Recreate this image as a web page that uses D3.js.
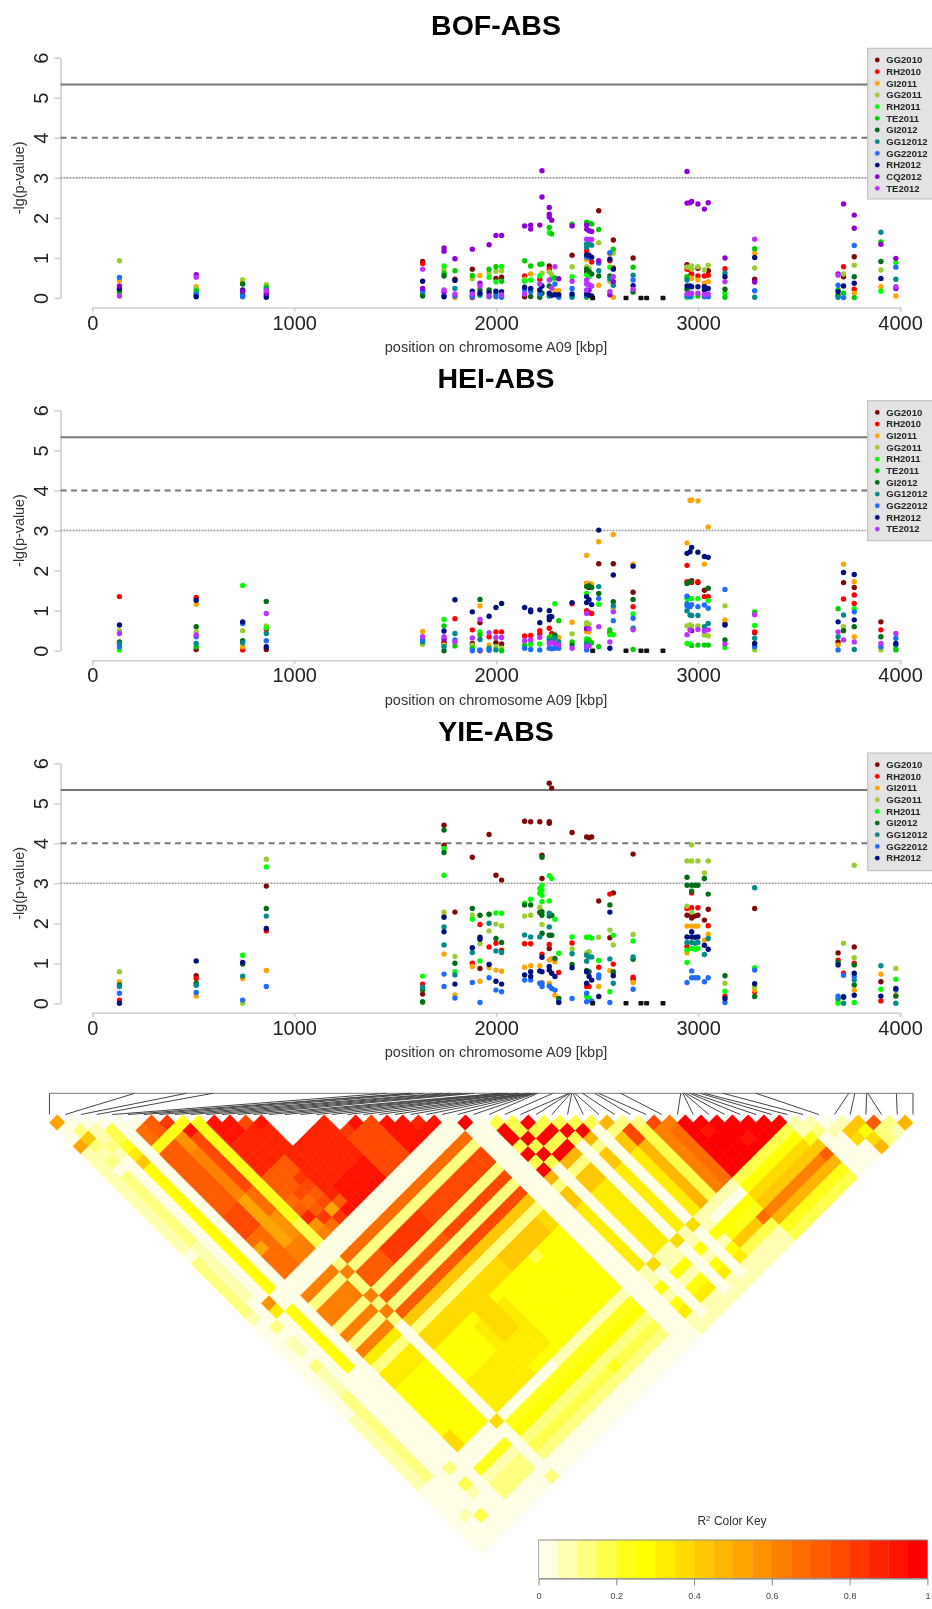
<!DOCTYPE html>
<html lang="en">
<head>
<meta charset="UTF-8">
<title>A09 association and LD</title>
<style>
body { margin: 0; background: #fff; }
svg { display: block; filter: blur(0.4px); font-family: "Liberation Sans", Arial, sans-serif; }
.axis path, .axis line { stroke: #cfcfcf; stroke-width: 1.6px; }
.axis text { font-size: 20px; fill: #222; }
.xlab { font-size: 14.5px; fill: #333; text-anchor: middle; }
.ylab { font-size: 14.4px; fill: #333; text-anchor: middle; }
.title { font-size: 28.5px; font-weight: bold; text-anchor: middle; fill: #000; }
.legend text { font-size: 9.5px; font-weight: bold; fill: #222; }
</style>
</head>
<body>
<script src="https://cdnjs.cloudflare.com/ajax/libs/d3/7.8.5/d3.min.js"></script>
<script>
var seriesNames = ["GG2010","RH2010","GI2011","GG2011","RH2011","TE2011","GI2012","GG12012","GG22012","RH2012","CQ2012","TE2012"];
var seriesColors = ["#7f0a0a","#ff0000","#ffa500","#9acd32","#00ff00","#00cd00","#006e14","#008b8b","#1e6cff","#00107f","#8f00d6","#bb33ff"];
var bofLegend = [0,1,2,3,4,5,6,7,8,9,10,11];
var heiLegend = [0,1,2,3,4,5,6,7,8,9,11];
var yieLegend = [0,1,2,3,4,6,7,8,9];
var thresholds = [5.33, 4, 3];
var xTicks = [0,1000,2000,3000,4000];
var yTicks = [0,1,2,3,4,5,6];
var blackPositions = [2478,2643,2717,2745,2826];

// each row: kbp, then series index / -lg(p) pairs
var bofPoints = [
[135, 3,.93, 8,.51, 2,.43, 10,.3, 9,.24, 6,.2, 5,.15, 4,.11, 11,.05],
[515, 10,.58, 11,.52, 2,.28, 3,.24, 5,.18, 4,.14, 8,.1, 7,.07, 9,.03],
[745, 3,.46, 2,.4, 6,.35, 9,.2, 10,.17, 4,.15, 5,.1, 7,.07, 8,.03],
[862, 3,.33, 5,.27, 7,.22, 11,.18, 10,.12, 4,.09, 8,.06, 9,.02],
[1636, 0,.91, 1,.86, 11,.72, 9,.42, 10,.24, 7,.2, 8,.17, 5,.09, 6,.05],
[1742, 10,1.25, 10,1.17, 4,.8, 3,.7, 5,.62, 6,.55, 11,.2, 10,.15, 8,.06, 9,.03],
[1796, 10,.98, 5,.68, 0,.47, 9,.44, 7,.24, 11,.1, 8,.05, 2,.01],
[1882, 10,1.22, 0,.72, 5,.56, 3,.48, 9,.17, 11,.1, 6,.06, 8,.03, 1,.01],
[1920, 2,.56, 10,.37, 11,.3, 6,.2, 9,.12, 7,.07],
[1965, 10,1.33, 5,.72, 3,.62, 4,.52, 6,.2, 9,.13, 11,.05, 8,.03],
[1999, 10,1.56, 5,.78, 3,.67, 0,.49, 4,.4, 9,.17, 7,.1, 8,.03],
[2027, 10,1.56, 4,.79, 3,.68, 0,.52, 5,.42, 9,.16, 11,.08, 8,.02],
[2141, 10,1.8, 5,.93, 1,.55, 3,.47, 4,.42, 9,.27, 8,.2, 11,.1, 0,.03],
[2171, 10,1.82, 10,1.72, 5,.8, 2,.6, 4,.45, 9,.24, 8,.16, 6,.04],
[2216, 10,1.82, 5,.84, 4,.55, 1,.47, 11,.35, 9,.2, 8,.1, 6,.02],
[2227, 10,3.18, 10,2.52, 5,.85, 3,.62, 9,.3, 6,.12],
[2263, 10,2.26, 10,2.09, 10,2.02, 5,1.76, 4,1.63, 0,.8, 1,.72, 3,.65, 11,.45, 6,.3, 9,.12, 7,.05],
[2275, 10,1.94, 5,1.6, 3,.58, 4,.48, 11,.25, 9,.07],
[2291, 11,.78, 5,.5, 8,.35, 2,.18, 9,.08],
[2310, 10,.48, 2,.18, 9,.08, 8,.02],
[2376, 5,1.84, 10,1.8, 0,1.07, 3,.78, 4,.53, 11,.42, 8,.24, 9,.1, 6,.05, 7,.02],
[2448, 5,1.89, 10,1.82, 10,1.72, 11,1.47, 7,1.35, 7,1.27, 1,1.18, 9,1.08, 8,1.03, 2,.96, 3,.78, 6,.72, 0,.65, 4,.58, 11,.45, 11,.35, 11,.2, 9,.1, 8,.05, 5,.02],
[2460, 5,1.87, 10,1.68, 11,1.46, 7,1.35, 9,1.07, 8,1.01, 3,.75, 6,.66, 4,.53, 11,.33, 10,.2, 9,.07],
[2473, 5,1.85, 10,1.66, 11,1.46, 7,1.32, 9,1.02, 1,.9, 6,.6, 11,.3, 9,.05],
[2508, 0,2.18, 5,1.71, 3,1.38, 10,.93, 8,.87, 7,.68, 6,.55, 2,.32],
[2563, 2,1.1, 8,1.13, 9,.97, 1,.93, 4,.77, 6,.55, 7,.48, 3,.42, 11,.16, 10,.08],
[2580, 0,1.45, 5,1.22, 3,1.12, 9,.72, 1,.75, 11,.53, 10,.41, 7,.32, 2,.02],
[2678, 0,1, 5,.77, 7,.57, 8,.45, 9,.31, 11,.22, 6,.15],
[2945, 10,3.16, 10,2.37, 0,.83, 3,.77, 1,.72, 5,.53, 2,.5, 7,.45, 9,.3, 6,.22, 11,.1, 8,.05, 4,.02],
[2960, 10,2.38, 3,.78, 0,.7, 2,.5, 1,.55, 9,.3, 11,.12, 8,.03],
[2968, 10,2.41, 3,.8, 3,.72, 2,.49, 1,.6, 9,.28, 11,.12, 4,.03],
[2999, 10,2.35, 3,.78, 0,.74, 2,.45, 1,.55, 9,.28, 11,.12, 5,.05],
[3031, 10,2.22, 3,.7, 1,.55, 2,.37, 9,.28, 9,.2, 11,.08, 8,.03],
[3050, 10,2.38, 3,.82, 0,.68, 1,.57, 2,.41, 9,.24, 11,.1, 8,.03],
[3133, 10,1, 1,.73, 7,.62, 9,.53, 11,.41, 6,.22, 4,.12, 5,.02],
[3280, 11,1.47, 5,1.23, 2,1.12, 9,1.01, 3,.75, 0,.47, 10,.4, 8,.18, 7,.02],
[3693, 11,.57, 10,.6, 8,.32, 5,.2, 9,.16, 6,.07, 7,.02],
[3720, 10,2.35, 1,.78, 3,.6, 0,.53, 9,.3, 5,.12, 8,.01],
[3773, 10,2.07, 10,1.74, 8,1.31, 0,1.03, 3,.82, 6,.53, 9,.37, 1,.22, 2,.12, 5,.01],
[3905, 7,1.64, 5,1.4, 10,1.34, 6,.91, 3,.7, 9,.49, 2,.28, 4,.17],
[3979, 10,.99, 4,.89, 8,.77, 7,.47, 11,.28, 2,.05, 10,.24]
];

var heiPoints = [
[135, 1,1.35, 9,.64, 3,.5, 11,.43, 6,.22, 7,.18, 8,.1, 4,.02],
[515, 1,1.33, 9,1.26, 2,1.16, 6,.6, 3,.47, 11,.39, 8,.35, 7,.18, 5,.1, 0,.03],
[745, 4,1.63, 9,.72, 8,.68, 3,.5, 6,.25, 7,.2, 2,.1, 1,.02],
[862, 6,1.23, 11,.93, 3,.62, 4,.57, 1,.53, 7,.43, 8,.25, 9,.1, 0,.03],
[1636, 2,.48, 11,.35, 8,.28, 7,.22, 3,.16],
[1742, 4,.78, 5,.62, 9,.49, 11,.35, 10,.3, 0,.22, 1,.17, 3,.14, 7,.1, 6,0],
[1796, 9,1.27, 1,.8, 7,.43, 8,.27, 11,.22, 5,.12],
[1882, 9,.97, 1,.52, 11,.32, 0,.18, 3,.14, 5,.06, 8,0],
[1920, 6,1.28, 2,1.12, 11,.78, 0,.7, 4,.47, 5,.4, 7,.28, 8,.02, 1,0],
[1965, 9,.86, 1,.35, 11,.45, 2,.14, 7,.06, 8,.01],
[1999, 9,1.08, 1,.47, 11,.33, 0,.2, 3,.1, 7,.02],
[2027, 9,1.18, 1,.47, 11,.33, 0,.17, 3,.06, 5,0],
[2141, 9,1.08, 1,.37, 11,.25, 5,.14, 8,.06],
[2171, 9,1.02, 9,.97, 1,.38, 11,.27, 4,.18, 3,.14, 8,.03],
[2216, 9,1.02, 1,.5, 1,.42, 9,.7, 11,.33, 4,.17, 8,.02],
[2263, 9,1, 9,.85, 9,.77, 1,.56, 5,.33, 7,.27, 11,.18, 8,.06],
[2275, 9,.85, 1,.43, 4,.35, 11,.2, 7,.25, 8,.05],
[2291, 4,1.17, 6,.39, 7,.31, 11,.18, 8,.06],
[2310, 5,.75, 2,.33, 7,.22, 11,.14, 8,.06],
[2376, 9,1.2, 1,1.17, 2,.71, 3,.42, 5,.22, 6,.14, 11,.06],
[2448, 2,2.38, 2,1.68, 0,1.68, 6,1.6, 4,1.43, 9,1.35, 9,1.2, 1,1, 1,.95, 11,.93, 3,.7, 3,.62, 10,.55, 2,.47, 4,.3, 5,.22, 7,.16, 11,.1, 8,.02],
[2460, 2,1.68, 6,1.62, 0,1.58, 9,1.27, 1,.95, 3,.66, 11,.55, 2,.47, 5,.27, 11,.12],
[2473, 2,1.66, 6,1.58, 1,.93, 9,1.15, 5,.2],
[2508, 9,3.01, 2,2.72, 0,2.17, 7,1.6, 6,1.43, 8,1.3, 4,1.16, 11,.6, 5,.1],
[2563, 5,.52, 1,.45, 4,.4, 11,.22, 9,.06],
[2580, 2,2.9, 0,2.17, 9,1.89, 6,1.22, 7,1.12, 3,1.06, 11,.97, 8,.75, 4,.4],
[2678, 2,2.16, 9,2.11, 0,1.46, 6,1.28, 1,1.1, 4,.92, 8,.81, 7,.56, 11,.52, 5,.03],
[2945, 2,2.69, 9,2.43, 1,2.13, 1,1.72, 6,1.68, 8,1.36, 4,1.3, 7,1.17, 8,1.12, 7,1, 3,.62, 11,.4, 4,.18],
[2960, 2,3.75, 9,2.47, 6,1.72, 4,1.3, 8,1.1, 7,.89, 3,.64, 11,.52, 4,.17],
[2968, 2,3.76, 9,2.58, 0,1.75, 1,1.7, 4,1.3, 8,1.15, 7,.88, 3,.62, 10,.5, 5,.13],
[2999, 2,3.74, 9,2.46, 1,1.72, 0,1.7, 4,1.3, 8,1.1, 7,.88, 3,.62, 11,.53, 5,.14],
[3031, 2,2.16, 9,2.35, 0,1.51, 1,1.35, 8,1.14, 7,.6, 11,.49, 3,.39, 5,.14],
[3050, 2,3.09, 9,2.33, 6,1.56, 1,1.35, 4,1.25, 8,1.06, 7,.68, 11,.52, 3,.37, 5,.14],
[3133, 8,1.53, 3,1.12, 2,.77, 0,.67, 9,.64, 6,.27, 11,.17, 4,.08],
[3280, 5,.97, 11,.9, 4,.63, 1,.47, 0,.45, 7,.31, 9,.18, 8,.1, 3,.02],
[3693, 5,1.05, 9,.72, 11,.47, 7,.35, 0,.22, 2,.14, 8,.02],
[3720, 2,2.16, 9,1.95, 0,1.7, 1,1.29, 7,.89, 3,.6, 6,.5, 11,.27],
[3773, 9,1.9, 2,1.72, 0,1.58, 1,1.39, 1,1.18, 4,1.05, 8,.97, 9,.77, 6,.6, 2,.35, 11,.22, 7,.03],
[3905, 0,.72, 1,.52, 6,.35, 11,.18, 8,.1, 3,.02],
[3979, 11,.43, 8,.31, 9,.18, 7,.14, 3,.06, 5,.02]
];

var yiePoints = [
[135, 3,.79, 2,.54, 6,.46, 7,.42, 8,.25, 1,.08, 9,0],
[515, 9,1.06, 0,.69, 1,.62, 6,.5, 7,.45, 8,.27, 2,.18],
[745, 4,1.2, 9,1.02, 6,.98, 7,.68, 2,.62, 8,.08, 3,0],
[862, 3,3.6, 4,3.41, 0,2.93, 6,2.37, 7,2.18, 9,1.87, 1,1.81, 2,.82, 8,.42],
[1636, 4,.68, 1,.48, 7,.4, 6,.34, 0,.23, 3,.02, 6,.04],
[1742, 0,4.45, 6,4.33, 0,3.95, 4,3.87, 6,3.77, 4,3.2, 3,2.28, 2,2.2, 9,2.15, 7,1.91, 9,1.79, 7,1.46, 2,1.23, 8,.73, 8,.42],
[1796, 0,2.28, 3,1.17, 6,1, 4,.79, 7,.71, 9,.48, 2,.21, 8,.13],
[1882, 0,3.65, 6,2.37, 3,2.21, 4,2.1, 9,1.39, 7,1.27, 1,1, 2,.92, 8,.52],
[1920, 6,2.2, 1,1.97, 9,1.65, 9,1.6, 3,1.49, 4,1.06, 0,.87, 2,.55, 8,.02],
[1965, 0,4.22, 4,2.22, 6,2.23, 7,2, 3,1.81, 1,1.41, 9,.97, 2,.89, 8,.64],
[1999, 0,3.2, 4,2.26, 3,1.98, 6,1.62, 1,1.5, 7,1.31, 2,.83, 9,.55, 8,.33],
[2027, 0,3.08, 4,2.25, 3,1.94, 6,1.52, 1,1.33, 7,1.27, 2,.8, 9,.48, 8,.29],
[2141, 0,4.55, 4,2.5, 6,2.46, 3,2.18, 7,1.71, 1,1.49, 2,.9, 9,.71, 8,.58],
[2171, 0,4.54, 4,2.6, 6,2.46, 3,2.2, 7,1.66, 1,1.49, 2,.94, 9,.79, 9,.67, 8,.58],
[2216, 0,4.54, 4,2.87, 4,2.75, 6,2.27, 3,2.4, 7,1.66, 2,.94, 9,.81, 8,.5],
[2227, 0,3.7, 6,3.65, 0,3.12, 4,2.95, 4,2.83, 4,2.7, 4,2.54, 6,2.29, 6,2.2, 3,1.97, 3,1.73, 6,1.75, 1,1.23, 9,1.15, 9,.79, 2,.52, 8,.5, 8,.42],
[2263, 0,5.5, 0,4.54, 0,4.5, 4,3.19, 4,2.56, 7,2.25, 6,2.18, 7,1.91, 6,1.7, 1,1.47, 0,1.37, 2,1.08, 9,.92, 9,.83, 2,.5, 8,.43],
[2275, 0,5.38, 4,3.12, 6,2.2, 6,1.7, 2,1.12, 9,.75, 8,.37],
[2291, 4,2.1, 6,1.12, 2,1.04, 9,.67, 8,.33, 2,.2],
[2310, 4,1.25, 1,.77, 2,.12, 6,.12, 8,.04, 9,.02],
[2376, 0,4.27, 4,1.66, 1,1.51, 3,1.36, 7,1.24, 6,.97, 9,.89, 8,.12],
[2448, 0,4.16, 4,1.65, 3,1.25, 7,1.2, 7,1.05, 6,.82, 9,.79, 9,.5, 1,.42, 8,.25, 4,.17, 8,.04],
[2460, 0,4.14, 4,1.66, 3,1.29, 7,1.16, 6,.79, 9,.67, 1,.42, 4,.13],
[2473, 0,4.16, 4,1.63, 7,1.16, 9,.58, 8,.06],
[2508, 0,2.56, 3,1.65, 4,1.07, 1,.9, 8,.71, 8,.64, 2,.42, 9,.17],
[2563, 1,2.73, 6,2.46, 9,2.28, 3,1.83, 0,1.64, 7,1.11, 2,.82, 4,.29, 8,.02],
[2580, 0,2.76, 4,1.7, 3,1.46, 1,.98, 6,.79, 2,.75, 9,.69, 7,.5],
[2678, 0,3.73, 3,1.72, 4,1.56, 7,1.16, 6,1.1, 1,.65, 0,.6, 2,.52, 8,.35],
[2945, 3,3.56, 6,3.15, 6,2.95, 3,2.43, 1,2.37, 0,2.2, 2,1.93, 9,1.66, 7,1.52, 1,1.42, 4,1.33, 2,1.26, 4,1.02, 8,.52],
[2968, 3,3.96, 3,3.56, 6,2.95, 6,2.8, 1,2.76, 1,2.39, 3,2.28, 0,2.2, 0,2.13, 2,1.93, 9,1.79, 9,1.66, 7,1.52, 4,1.37, 8,.81, 8,.64],
[2985, 6,2.95, 0,2.18, 2,1.93, 9,1.65, 7,1.5, 4,1.35, 8,.64],
[2999, 3,3.56, 6,2.95, 1,2.39, 0,2.2, 2,1.93, 9,1.66, 7,1.52, 4,1.37, 8,.64],
[3031, 3,3.26, 6,3.12, 0,2.08, 2,1.58, 9,1.45, 7,1.22, 8,.54],
[3050, 3,3.56, 6,2.73, 0,2.35, 1,1.94, 2,1.73, 7,1.62, 9,1.35, 8,.64],
[3133, 6,.69, 3,.5, 4,.3, 1,.18, 9,.12, 8,.02],
[3280, 7,2.89, 0,2.37, 4,.89, 8,.83, 9,.49, 3,.4, 2,.33, 1,.29, 6,.17],
[3693, 0,1.26, 1,1.08, 6,1.02, 9,.96, 8,.18, 7,.12, 3,.07, 4,0],
[3720, 3,1.5, 1,.75, 8,.7, 6,.17, 9,.15, 7,0],
[3773, 3,3.45, 0,1.41, 3,1.14, 1,1, 6,.96, 9,.75, 8,.67, 7,.58, 6,.46, 2,.33, 9,.2, 4,.02],
[3905, 7,.94, 2,.73, 0,.54, 4,.35, 9,.18, 1,.06],
[3979, 3,.87, 4,.6, 9,.37, 8,.33, 2,.21, 6,.18, 7,0]
];

// LD heatmap: SNP positions on the map bar and blocks of r2 bin
var snpKbp = [135,515,745,862,1636,1742,1750,1796,1882,1920,1965,1999,2027,2141,2150,2171,2178,2216,2220,2227,2263,2266,2270,2275,2280,2291,2295,2300,2310,2376,2448,2450,2455,2460,2466,2473,2508,2563,2580,2678,2945,2955,2960,2968,2985,2999,3031,3050,3133,3280,3693,3720,3773,3778,3905,3979];
var keyColors = ["#FFFFE6","#FFFFB2","#FFFF80","#FFFF4C","#FFFF19","#FFFF00","#FFED00","#FFDB00","#FFC800","#FFB600","#FFA400","#FF9200","#FF8000","#FF6D00","#FF5B00","#FF4900","#FF3700","#FF2400","#FF1200","#FF0000"];
var keyTicks = [0,0.2,0.4,0.6,0.8,1];
function r(a,b) { return d3.range(a,b+1); }
var s1 = [28,30,31,33,35], s2 = [29,32,34], z = r(40,47);
var low = r(5,8), high = r(10,25);
var ldBlocks = [
[[0,1],[4],10],[[0],[1],10],[[1],[4],8],[[1],[3,5,7],2],[[1],[6],1],[[1],r(9,17),2],[[1],r(18,24),1],[[1],[28,37,38,39,40,41,42,43,44,45,46,47],2],[[1],[30,31,34,35,36,52],1],[[1],[33],2],
[[0],r(5,17),1],[[0],r(19,25),2],[[0],[26],1],[[0],r(39,47),1],
[[2],[4,5,7],1],[[2],[6],2],[[2],[26],11],[[2],[27],6],[[2],[53],3],
[[3],[5,6],3],[[3],[7],4],[[3],[8],6],[[3],[9],8],[[3],r(10,25),5],[[3],r(28,35),5],[[3],[48],2],[[3],[50],3],[[3],[51],1],
[[5,6],[7,8],14],[[5],[7,8],13],[[5,6],r(10,17),14],[[5,6],r(18,20),15],[[5,6],r(21,25),13],[[5],[22],10],
[[7],[8],16],[[7],[10,11],11],[[7],r(12,17),12],[[7],r(18,23),10],[[7],[24,25],12],
[[8],[10],18],[[8],r(11,17),15],[[8],r(18,20),13],[[8],r(21,23),11],[[8],[24,25],12],
[low,[9],4],[[9],r(10,22),4],[[9],r(23,25),3],
[[10,11,12],r(11,13),18],[[12],[13],15],[[10,11,12],r(14,17),17],[[10,11,12],r(18,20),14],[[12],[20],16],
[[10],[21],13],[[10],[22],14],[[10],[23],17],[[10],[24],11],[[10],[25],12],
[[11],[21],15],[[11],[22],13],[[11],[23],14],[[11],[24],16],[[11],[25],13],
[[12],[21],15],[[12],[22],14],[[12],[23],15],[[12],[24],10],[[12],[25],16],
[[13],[14],18],[[13],r(15,25),17],[[13],[24],14],[[13],[25],18],
[r(14,17),r(18,22),17],[r(14,17),r(23,25),18],
[[18,19,20],[20],18],[[18],[20],16],[[18,19,20],r(21,25),15],
[r(21,24),r(22,25),18],[[23],[24],17],[[26],[27],19],
[low,s1,12],[r(10,17),s1,14],[r(13,17),[30,31],16],[r(18,25),s1,15],[high,[28],13],
[low,s2,2],[high,s2,2],[[9],s1,2],[[9],s2,12],
[low,[36],6],[low,[37],2],[low,[38,39],6],[low,z,5],[[5],[46,47],7],
[high,[36],8],[high,[37],2],[high,[38,39],7],[r(20,24),[38,39],8],[high,z,5],[r(14,17),r(41,46),6],[[15,16],r(40,43),7],[r(10,14),r(44,47),6],[[22],[40],3],
[low,[50],4],[low,[51],1],[low,[52,53],2],
[high,[48],1],[high,[49],4],[high,[50],5],[high,[51],2],[high,[52],3],[high,[53],2],[[20],[52],4],[r(10,16),[48],0],
[[9],[48],7],[[9],[55],2],
[s1,s1,19],[s2,s2,19],[s1,s2,3],
[s1,[36],9],[s1,[37],2],[s1,[38,39],8],[s1,z,6],
[s2,[48],7],[s2,[55],1],
[s1,[48,49,51,54,55],1],[s1,[50,52],5],[s1,[53],6],
[[36],[37],2],[[36],[38,39],15],[[36],z,9],[[37],[38],2],[[37],[39],3],[[37],z,3],[[38],[39],15],[[38],z,12],[[39],z,13],[[39],[40],12],
[z,z,19],[[41],[43],18],[[43],[46],18],
[r(36,39),[48,54,55],1],[r(36,39),[50],5],[r(36,39),[51],4],[r(36,39),[52],8],[r(36,39),[53],3],[[39],[52],13],[[36],[51],5],
[z,[48],3],[z,[49],5],[z,[50],7],[z,[51],8],[z,[52],12],[z,[53],9],[z,[54],4],[z,[55],3],
[[47],[48,49],1],[[47],[50],4],[[47],[52],14],
[[48],[49],1],[[48],[50],2],[[49],[51],1],[[50],[51],1],[[50],[52],8],[[50],[53],7],[[51],[52],8],[[51],[53],5],[[51],[54],7],[[51],[55],9],[[52],[53],14],[[52],[54,55],2],[[53],[54],2],[[53],[55],1],[[54],[55],9]
];
var ldMissing = [[14,15],[14,16],[14,17],[15,16],[15,17],[16,17],[18,19]];

var width = 932, height = 1609;
var svg = d3.select("body").append("svg").attr("width", width).attr("height", height);
var x = d3.scaleLinear().domain([0,4000]).range([92.2,900.1]);
var panels = [
  { title:"BOF-ABS", points:bofPoints, legend:bofLegend, y6:57.7, y0:298, boxTop:48.3, boxBottom:199 },
  { title:"HEI-ABS", points:heiPoints, legend:heiLegend, y6:410.3, y0:650.7, boxTop:400.7, boxBottom:540.7 },
  { title:"YIE-ABS", points:yiePoints, legend:yieLegend, y6:763.3, y0:1003.3, boxTop:753, boxBottom:870.7 }
];
panels.forEach(drawPanel);

function drawPanel(p) {
  var g = svg.append("g");
  var y = d3.scaleLinear().domain([0,6]).range([p.y0,p.y6]);

  g.append("text").attr("class","title").attr("x",496).attr("y",p.y6-22.6).text(p.title);

  var xAxis = g.append("g").attr("class","axis").attr("transform","translate(0,"+(p.y0+9.5)+")")
    .call(d3.axisBottom(x).tickValues(xTicks).tickFormat(d3.format("d")).tickSize(4).tickSizeOuter(4).tickPadding(4));
  xAxis.select(".domain").attr("fill","none");

  var yAxis = g.append("g").attr("class","axis").attr("transform","translate(60.6,0)")
    .call(d3.axisLeft(y).tickValues(yTicks).tickFormat(d3.format("d")).tickSize(6).tickSizeOuter(0));
  yAxis.select(".domain").attr("fill","none");
  yAxis.selectAll("text").attr("transform","rotate(-90)").attr("x",0).attr("y",-12.8).attr("dy",0).attr("text-anchor","middle");

  g.append("text").attr("class","xlab").attr("x",496).attr("y",p.y0+54).text("position on chromosome A09 [kbp]");
  g.append("text").attr("class","ylab").attr("transform","translate(23.5,"+((p.y0+p.y6)/2)+") rotate(-90)").text("-lg(p-value)");

  var styles = [{w:2,c:"#777",d:null},{w:2,c:"#777",d:"6,4.4"},{w:1.6,c:"#999",d:"1.8,1.2"}];
  g.selectAll("line.thr").data(thresholds).enter().append("line").attr("class","thr")
    .attr("x1",60.6).attr("x2",width)
    .attr("y1",d => y(d)).attr("y2",d => y(d))
    .attr("stroke",(d,i) => styles[i].c).attr("stroke-width",(d,i) => styles[i].w)
    .attr("stroke-dasharray",(d,i) => styles[i].d);

  var dots = [];
  p.points.forEach(function (row) {
    for (var k = 1; k < row.length; k += 2) dots.push({ kbp:row[0], s:row[k], v:row[k+1] });
  });
  dots.sort((a,b) => a.s - b.s);
  g.selectAll("circle.dot").data(dots).enter().append("circle").attr("class","dot")
    .attr("cx",d => x(d.kbp)).attr("cy",d => y(d.v)).attr("r",2.7)
    .attr("fill",d => seriesColors[d.s]);

  g.selectAll("rect.mono").data(blackPositions).enter().append("rect").attr("class","mono")
    .attr("x",d => x(d)-2.5).attr("y",y(0)-2.3).attr("width",5).attr("height",4.6).attr("rx",1)
    .attr("fill","#111");

  var box = g.append("g").attr("class","legend");
  box.append("rect").attr("x",867.7).attr("y",p.boxTop).attr("width",width-867.7+3).attr("height",p.boxBottom-p.boxTop)
    .attr("fill","#e3e3e3").attr("stroke","#bbb");
  var rows = box.selectAll("g").data(p.legend).enter().append("g")
    .attr("transform",(d,i) => "translate(0,"+(p.boxTop+11.7+i*11.67)+")");
  rows.append("circle").attr("cx",877.3).attr("r",2.4).attr("fill",d => seriesColors[d]);
  rows.append("text").attr("x",886.3).attr("dy","0.35em").text(d => seriesNames[d]);
}

// LD triangle
var n = snpKbp.length;
var cells = [];
var r2 = d3.range(n).map(() => d3.range(n).map(() => 0.025));
ldBlocks.forEach(function (b) {
  b[0].forEach(function (a) {
    b[1].forEach(function (c) {
      if (a === c) return;
      r2[Math.min(a,c)][Math.max(a,c)] = (b[2] + 0.5) / 20;
    });
  });
});
ldMissing.forEach(function (m) { r2[m[0]][m[1]] = null; });
for (var i = 0; i < n; i++) for (var j = i + 1; j < n; j++) cells.push({ i:i, j:j, v:r2[i][j] });

var color = d3.scaleQuantize().domain([0,1]).range(keyColors);
var snpX = d3.scaleLinear().domain([0,n-1]).range([49.45,913]);
var barX = d3.scaleLinear().domain([d3.min(snpKbp),d3.max(snpKbp)]).range([49.45,913]);
var half = (snpX(1) - snpX(0)) / 2;
var rowY = d3.scaleLinear().domain([1,n-1]).range([1122.7,1122.7+(n-2)*half]);

// no stroke on the cells and crispEdges off: a full-colour underlay hides the seams
var ldG = svg.append("g");
ldG.selectAll("polygon").data(cells.filter(d => d.v !== null)).enter().append("polygon")
  .attr("points", function (d) {
    var cx = (snpX(d.i) + snpX(d.j)) / 2, cy = rowY(d.j - d.i);
    return [[cx,cy-half],[cx+half,cy],[cx,cy+half],[cx-half,cy]].join(" ");
  })
  .attr("fill",d => color(d.v)).attr("stroke",d => color(d.v)).attr("stroke-width",0.7).attr("stroke-linejoin","miter");

var map = svg.append("g").attr("fill","none").attr("stroke","#444").attr("stroke-width",1);
map.append("line").attr("x1",barX.range()[0]).attr("x2",barX.range()[1]).attr("y1",1093.3).attr("y2",1093.3).attr("stroke","#777");
map.selectAll("path").data(snpKbp).enter().append("path")
  .attr("d",(d,i) => "M"+barX(d)+",1093.3L"+snpX(i)+",1114.5");

// colour key
var keyX = d3.scaleLinear().domain([0,1]).range([538.5,927.4]);
var key = svg.append("g");
key.selectAll("rect").data(keyColors).enter().append("rect")
  .attr("x",(d,i) => keyX(i/20)).attr("y",1540).attr("width",keyX(0.05)-keyX(0)+0.3).attr("height",38.3)
  .attr("fill",d => d);
key.append("line").attr("x1",keyX(0)).attr("x2",keyX(1)).attr("y1",1540).attr("y2",1540).attr("stroke","#888").attr("stroke-width",1.2);
key.append("line").attr("x1",keyX(0)).attr("x2",keyX(0)).attr("y1",1540).attr("y2",1578).attr("stroke","#aaa");
var keyAxis = key.append("g").attr("transform","translate(0,1578.3)")
  .call(d3.axisBottom(keyX).tickValues(keyTicks).tickFormat(d => d).tickSize(7).tickPadding(7).tickSizeOuter(0));
keyAxis.select(".domain").attr("stroke","#777").attr("stroke-width",1.2);
keyAxis.selectAll("line").attr("stroke","#888");
keyAxis.selectAll("text").attr("font-size",9).attr("font-family","'Liberation Sans'").attr("fill","#444");
var keyTitle = key.append("text").attr("x",732).attr("y",1525).attr("text-anchor","middle").attr("font-size",12).attr("fill","#333");
keyTitle.append("tspan").text("R");
keyTitle.append("tspan").attr("font-size",8).attr("dy",-4).text("2");
keyTitle.append("tspan").attr("dy",4).text(" Color Key");
</script>
</body>
</html>
